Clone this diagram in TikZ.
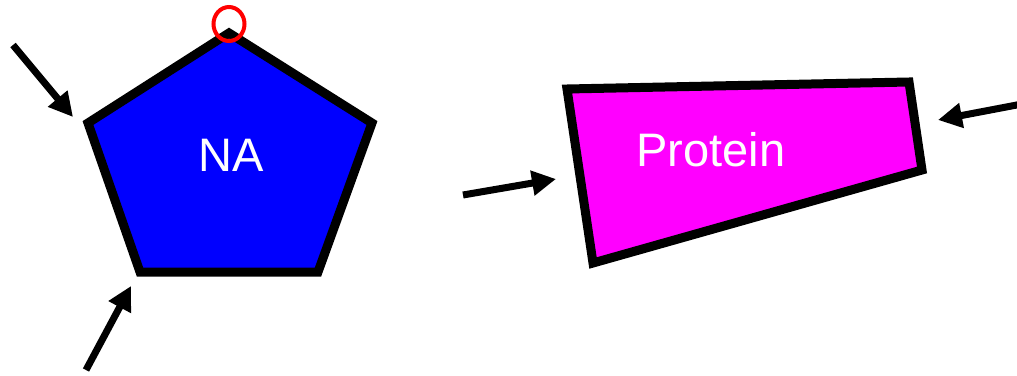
\documentclass[tikz,border=0pt]{standalone}
\usepackage{fontspec}
\setmainfont{Liberation Sans}
\usetikzlibrary{arrows.meta}
\definecolor{protmag}{RGB}{255,0,255}
\definecolor{nablue}{RGB}{0,0,255}
\begin{document}
\begin{tikzpicture}[x=1pt, y=-1pt,
    outline/.style={line width=9pt, line join=miter},
    push/.style={line width=7pt, -{Triangle[length=24pt,width=24pt]}},
    every node/.style={font=\fontsize{47}{56}\selectfont, text=white}]
  \useasboundingbox[fill=white] (0,0) rectangle (1017,375);

  % nucleic acid
  \coordinate (na top) at (229,33);
  \coordinate (na right) at (372,123);
  \coordinate (na br) at (318,272);
  \coordinate (na bl) at (140,272);
  \coordinate (na left) at (88,123);
  \filldraw[outline, fill=nablue] (na top) -- (na right) -- (na br) -- (na bl) -- (na left) -- cycle;
  \node (na) at (231,155) {NA};
  \draw[red, line width=4pt] (229,24) ellipse [x radius=15.5pt, y radius=17pt];

  % protein
  \coordinate (p tl) at (567,89);
  \coordinate (p tr) at (909,82);
  \coordinate (p br) at (922,170);
  \coordinate (p bl) at (593,263);
  \filldraw[outline, fill=protmag] (p tl) -- (p tr) -- (p br) -- (p bl) -- cycle;
  \node (prot) at (711,150) {Protein};

  % arrows
  \coordinate (a1) at (13,45);   \coordinate (b1) at (73,117);
  \coordinate (a2) at (86,370);  \coordinate (b2) at (131,286);
  \coordinate (a3) at (463,195); \coordinate (b3) at (556,179);
  \coordinate (a4) at (1022,104); \coordinate (b4) at (938,120);
  \draw[push] (a1) -- (b1);
  \draw[push] (a2) -- (b2);
  \draw[push] (a3) -- (b3);
  \draw[push] (a4) -- (b4);
\end{tikzpicture}
\end{document}
